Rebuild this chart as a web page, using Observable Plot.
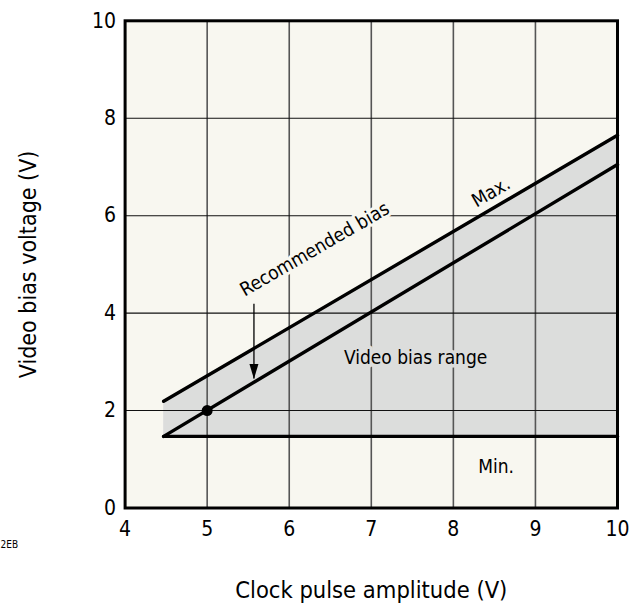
<!DOCTYPE html>
<html>
<head>
<meta charset="utf-8">
<script src="https://cdn.jsdelivr.net/npm/d3@7"></script>
<script src="https://cdn.jsdelivr.net/npm/@observablehq/plot@0.6"></script>
<style>
  html, body { margin: 0; padding: 0; background: #ffffff; }
  svg { display: block; }
</style>
</head>
<body>
<div id="chart"></div>
<script>
// ---- data ----
const xTicks = [4, 5, 6, 7, 8, 9, 10];
const yTicks = [0, 2, 4, 6, 8, 10];
const xGrid = [5, 6, 7, 8, 9];
const yGrid = [2, 4, 6, 8];
const rangeX = [4.47, 10];
const maxBias = [2.19, 7.65];
const recBias = [1.47, 7.05];
const minBias = [1.47, 1.47];
const pointX = [5];
const pointY = [2];
const arrowX = [5.57];
const arrowFrom = [4.18];
const arrowTo = [2.65];
const annoText = ["Recommended bias", "Max."];
const annoX = [6.31, 8.46];
const annoY = [5.31, 6.48];
const rangeLabel = ["Video bias range"];
const rangeLabelX = [7.54];
const rangeLabelY = [3.08];
const minLabel = ["Min."];
const minLabelX = [8.52];
const minLabelY = [0.84];
const xLabel = "Clock pulse amplitude (V)";
const yLabel = "Video bias voltage (V)";
const cornerNote = "2EB";

// ---- tables built from the arrays ----
const rows = rangeX.map((x, i) => ({x, max: maxBias[i], rec: recBias[i], min: minBias[i]}));
const points = pointX.map((x, i) => ({x, y: pointY[i]}));
const arrows = arrowX.map((x, i) => ({x, y1: arrowFrom[i], y2: arrowTo[i]}));
const annos = annoText.map((t, i) => ({t, x: annoX[i], y: annoY[i]}));
const ranges = rangeLabel.map((t, i) => ({t, x: rangeLabelX[i], y: rangeLabelY[i]}));
const mins = minLabel.map((t, i) => ({t, x: minLabelX[i], y: minLabelY[i]}));

const cream = "#f8f7f0";
const grey = "#dcdddc";
const font = "'DejaVu Sans Condensed', 'DejaVu Sans', sans-serif";

const arrowHead = {
  draw(context) {
    context.moveTo(0, 0);
    context.lineTo(-4.5, -15);
    context.lineTo(4.5, -15);
    context.closePath();
  }
};

const chart = Plot.plot({
  width: 638,
  height: 604,
  marginLeft: 124.6,
  marginRight: 21,
  marginTop: 20.3,
  marginBottom: 96.5,
  style: {fontFamily: font, background: "#ffffff", color: "#000"},
  x: {domain: [4, 10]},
  y: {domain: [0, 10]},
  marks: [
    Plot.frame({fill: cream, stroke: null}),
    Plot.areaY(rows, {x: "x", y1: "min", y2: "max", fill: grey}),
    Plot.ruleX(xGrid, {stroke: "#555", strokeWidth: 1.6}),
    Plot.ruleY(yGrid, {stroke: "#111", strokeWidth: 1.1}),
    Plot.lineY(rows, {x: "x", y: "max", stroke: "#000", strokeWidth: 3.4}),
    Plot.lineY(rows, {x: "x", y: "rec", stroke: "#000", strokeWidth: 3.4}),
    Plot.lineY(rows, {x: "x", y: "min", stroke: "#000", strokeWidth: 3.4}),
    Plot.dot(points, {x: "x", y: "y", r: 5.5, fill: "#000"}),
    Plot.ruleX(arrows, {x: "x", y1: "y1", y2: "y2", stroke: "#000", strokeWidth: 1.3}),
    Plot.dot(arrows, {x: "x", y: "y2", symbol: arrowHead, fill: "#000", stroke: null}),
    Plot.text(annos, {x: "x", y: "y", text: "t", rotate: -30, fontSize: 19, fill: "#000",
      stroke: cream, strokeWidth: 6, paintOrder: "stroke", strokeLinejoin: "round"}),
    Plot.text(ranges, {x: "x", y: "y", text: "t", fontSize: 19, fill: "#000",
      stroke: grey, strokeWidth: 7, paintOrder: "stroke", strokeLinejoin: "round"}),
    Plot.text(mins, {x: "x", y: "y", text: "t", fontSize: 19, fill: "#000"}),
    Plot.frame({stroke: "#000", strokeWidth: 3}),
    Plot.axisX({ticks: xTicks, tickFormat: d3.format("d"), tickSize: 0, tickPadding: 13, fontSize: 21, label: null}),
    Plot.axisY({ticks: yTicks, tickFormat: d3.format("d"), tickSize: 0, tickPadding: 9, fontSize: 21, label: null}),
    Plot.text([xLabel], {frameAnchor: "bottom", dy: 82.5, textAnchor: "middle", lineAnchor: "middle", fontSize: 23.5, fill: "#000"}),
    Plot.text([yLabel], {frameAnchor: "left", dx: -96.6, rotate: -90, textAnchor: "middle", lineAnchor: "middle", fontSize: 23, fill: "#000"}),
    Plot.text([cornerNote], {frameAnchor: "bottom-left", dx: -124.6, dy: 40, textAnchor: "start", fontSize: 10, fill: "#000"})
  ]
});

document.getElementById("chart").appendChild(chart);
</script>
</body>
</html>
